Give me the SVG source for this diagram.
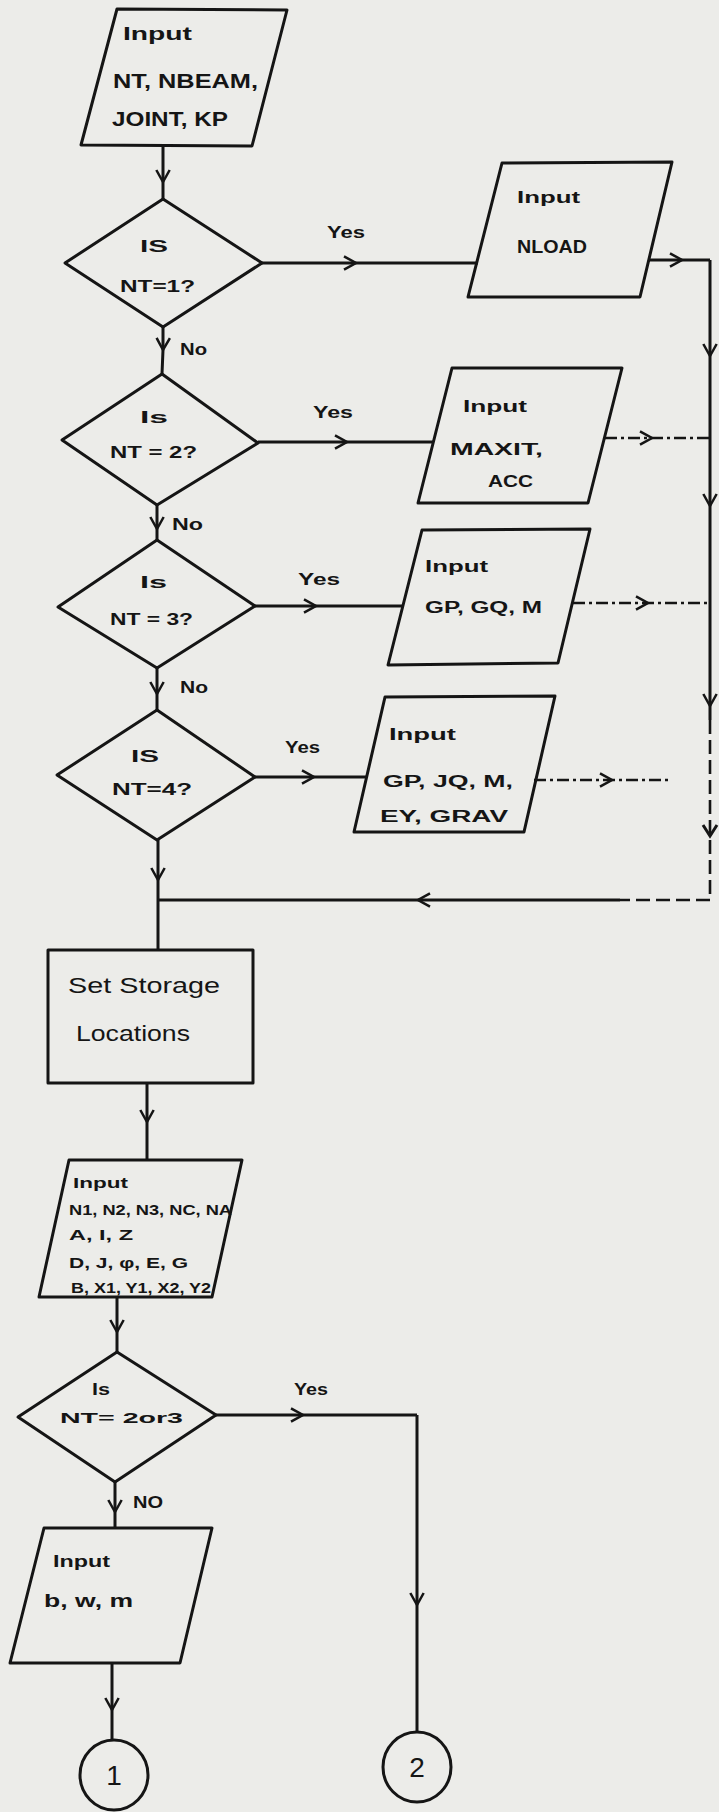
<svg xmlns="http://www.w3.org/2000/svg" width="719" height="1812" viewBox="0 0 719 1812">
<style>
.bg{fill:#ecece9}
.shape{fill:none;stroke:#151515;stroke-width:3;stroke-linejoin:round}
.ln{fill:none;stroke:#151515;stroke-width:3;marker-mid:url(#chev)}
.pl{fill:none;stroke:#151515;stroke-width:3}
.dd{fill:none;stroke:#151515;stroke-width:2.6;stroke-dasharray:12 4 3 4;marker-mid:url(#chev)}
.dsh{fill:none;stroke:#151515;stroke-width:2.6;stroke-dasharray:14 6}
.t{font-family:"Liberation Sans",Arial,sans-serif;font-weight:bold;fill:#151515}
.s18{font-size:18px}.s16{font-size:16px}.s15{font-size:15px}.s14{font-size:14px}.s20{font-size:20px}.s22{font-size:22px;font-weight:normal}.s26{font-size:28px;font-weight:normal}
</style>
<defs>
<marker id="chev" viewBox="0 0 12 12" refX="10" refY="6" markerWidth="16" markerHeight="16" markerUnits="userSpaceOnUse" orient="auto">
<path d="M1,1 L10,6 L1,11" fill="none" stroke="#151515" stroke-width="1.9"/>
</marker>
</defs>
<rect class="bg" x="0" y="0" width="719" height="1812"/>

<g id="connectors">
<polyline class="ln" points="163,146 163,182 163,199"/>
<polyline class="ln" points="262,263 356,263 478,263"/>
<polyline class="ln" points="648,260 682,260 710,260"/>
<polyline class="ln" points="710,260 710,356 710,438"/>
<polyline class="ln" points="710,438 710,506 710,603"/>
<polyline class="ln" points="710,603 710,706 710,720"/>
<polyline class="dsh" points="710,720 710,900"/>
<polyline class="pl" points="703,825 710,836 717,825"/>
<polyline class="dsh" points="710,900 620,900"/>
<polyline class="ln" points="620,900 418,900 158,900"/>
<polyline class="ln" points="163,327 163,350 162,374"/>
<polyline class="ln" points="258,442 347,442 433,442"/>
<polyline class="dd" points="605,438 652,438 710,438"/>
<polyline class="ln" points="157,505 157,529 157,540"/>
<polyline class="ln" points="255,606 316,606 403,606"/>
<polyline class="dd" points="573,603 648,603 710,603"/>
<polyline class="ln" points="157,668 157,694 157,710"/>
<polyline class="ln" points="255,777 314,777 367,777"/>
<polyline class="dd" points="534,780 612,780 669,780"/>
<polyline class="ln" points="158,840 158,880 158,900"/>
<polyline class="pl" points="158,900 158,950"/>
<polyline class="ln" points="147,1083 147,1122 147,1160"/>
<polyline class="ln" points="117,1297 117,1332 117,1352"/>
<polyline class="ln" points="216,1415 303,1415 417,1415"/>
<polyline class="ln" points="417,1415 417,1605 417,1732"/>
<polyline class="ln" points="115,1482 115,1512 115,1528"/>
<polyline class="ln" points="112,1663 112,1710 112,1740"/>
<text class="t s16" x="327" y="238" textLength="38" lengthAdjust="spacingAndGlyphs">Yes</text>
<text class="t s16" x="180" y="355" textLength="27" lengthAdjust="spacingAndGlyphs">No</text>
<text class="t s16" x="313" y="418" textLength="40" lengthAdjust="spacingAndGlyphs">Yes</text>
<text class="t s16" x="172" y="530" textLength="31" lengthAdjust="spacingAndGlyphs">No</text>
<text class="t s16" x="298" y="585" textLength="42" lengthAdjust="spacingAndGlyphs">Yes</text>
<text class="t s16" x="180" y="693" textLength="28" lengthAdjust="spacingAndGlyphs">No</text>
<text class="t s16" x="285" y="753" textLength="35" lengthAdjust="spacingAndGlyphs">Yes</text>
<text class="t s16" x="294" y="1395" textLength="34" lengthAdjust="spacingAndGlyphs">Yes</text>
<text class="t s16" x="133" y="1508" textLength="30" lengthAdjust="spacingAndGlyphs">NO</text>
</g>

<g id="input-main">
<polygon class="shape" points="117,9 287,10 252,146 81,145"/>
<text class="t s18" x="123" y="40" textLength="69" lengthAdjust="spacingAndGlyphs">Input</text>
<text class="t s20" x="113" y="88" textLength="145" lengthAdjust="spacingAndGlyphs">NT, NBEAM,</text>
<text class="t s20" x="112" y="126" textLength="116" lengthAdjust="spacingAndGlyphs">JOINT, KP</text>
</g>

<g id="dec-nt1">
<polygon class="shape" points="163,199 262,263 163,327 65,263"/>
<text class="t s16" x="140" y="252" textLength="28" lengthAdjust="spacingAndGlyphs">IS</text>
<text class="t s16" x="120" y="292" textLength="75" lengthAdjust="spacingAndGlyphs">NT=1?</text>
</g>

<g id="input-nload">
<polygon class="shape" points="502,163 672,162 640,297 468,297"/>
<text class="t s16" x="517" y="203" textLength="63" lengthAdjust="spacingAndGlyphs">Input</text>
<text class="t s18" x="517" y="253" textLength="70" lengthAdjust="spacingAndGlyphs">NLOAD</text>
</g>

<g id="dec-nt2">
<polygon class="shape" points="162,374 258,443 157,505 62,440"/>
<text class="t s16" x="140" y="423" textLength="28" lengthAdjust="spacingAndGlyphs">Is</text>
<text class="t s16" x="110" y="458" textLength="87" lengthAdjust="spacingAndGlyphs">NT = 2?</text>
</g>

<g id="input-maxit">
<polygon class="shape" points="452,368 622,368 588,503 418,503"/>
<text class="t s16" x="463" y="412" textLength="64" lengthAdjust="spacingAndGlyphs">Input</text>
<text class="t s16" x="450" y="455" textLength="93" lengthAdjust="spacingAndGlyphs">MAXIT,</text>
<text class="t s16" x="488" y="487" textLength="45" lengthAdjust="spacingAndGlyphs">ACC</text>
</g>

<g id="dec-nt3">
<polygon class="shape" points="157,540 255,606 157,668 58,607"/>
<text class="t s16" x="140" y="588" textLength="27" lengthAdjust="spacingAndGlyphs">Is</text>
<text class="t s16" x="110" y="625" textLength="83" lengthAdjust="spacingAndGlyphs">NT = 3?</text>
</g>

<g id="input-gp">
<polygon class="shape" points="422,530 590,529 558,663 388,665"/>
<text class="t s16" x="425" y="572" textLength="63" lengthAdjust="spacingAndGlyphs">Input</text>
<text class="t s16" x="425" y="613" textLength="117" lengthAdjust="spacingAndGlyphs">GP, GQ, M</text>
</g>

<g id="dec-nt4">
<polygon class="shape" points="157,710 255,777 157,840 57,775"/>
<text class="t s16" x="131" y="762" textLength="28" lengthAdjust="spacingAndGlyphs">IS</text>
<text class="t s16" x="112" y="795" textLength="80" lengthAdjust="spacingAndGlyphs">NT=4?</text>
</g>

<g id="input-grav">
<polygon class="shape" points="385,697 555,696 524,832 354,832"/>
<text class="t s16" x="389" y="740" textLength="67" lengthAdjust="spacingAndGlyphs">Input</text>
<text class="t s16" x="383" y="787" textLength="130" lengthAdjust="spacingAndGlyphs">GP, JQ, M,</text>
<text class="t s16" x="380" y="822" textLength="128" lengthAdjust="spacingAndGlyphs">EY, GRAV</text>
</g>

<g id="set-storage">
<rect class="shape" x="48" y="950" width="205" height="133"/>
<text class="t s22" x="68" y="993" textLength="152" lengthAdjust="spacingAndGlyphs">Set  Storage</text>
<text class="t s22" x="76" y="1041" textLength="114" lengthAdjust="spacingAndGlyphs">Locations</text>
</g>

<g id="input-props">
<polygon class="shape" points="69,1160 242,1160 212,1297 39,1297"/>
<text class="t s15" x="73" y="1188" textLength="55" lengthAdjust="spacingAndGlyphs">Input</text>
<text class="t s15" x="69" y="1215" textLength="163" lengthAdjust="spacingAndGlyphs">N1, N2, N3, NC, NA</text>
<text class="t s15" x="69" y="1240" textLength="64" lengthAdjust="spacingAndGlyphs">A, I, Z</text>
<text class="t s15" x="69" y="1268" textLength="119" lengthAdjust="spacingAndGlyphs">D, J, φ, E, G</text>
<text class="t s15" x="71" y="1293" textLength="140" lengthAdjust="spacingAndGlyphs">B, X1, Y1, X2, Y2</text>
</g>

<g id="dec-nt23">
<polygon class="shape" points="117,1352 216,1415 115,1482 18,1417"/>
<text class="t s16" x="92" y="1395" textLength="18" lengthAdjust="spacingAndGlyphs">Is</text>
<text class="t s15" x="60" y="1423" textLength="123" lengthAdjust="spacingAndGlyphs">NT= 2or3</text>
</g>

<g id="input-bwm">
<polygon class="shape" points="44,1528 212,1528 180,1663 10,1663"/>
<text class="t s16" x="53" y="1567" textLength="57" lengthAdjust="spacingAndGlyphs">Input</text>
<text class="t s18" x="44" y="1607" textLength="89" lengthAdjust="spacingAndGlyphs">b, w, m</text>
</g>

<g id="conn-1">
<ellipse class="shape" cx="114" cy="1775" rx="34" ry="35"/>
<text class="t s26" x="114" y="1785" text-anchor="middle">1</text>
</g>

<g id="conn-2">
<ellipse class="shape" cx="417" cy="1767" rx="34" ry="35"/>
<text class="t s26" x="417" y="1777" text-anchor="middle">2</text>
</g>
</svg>
